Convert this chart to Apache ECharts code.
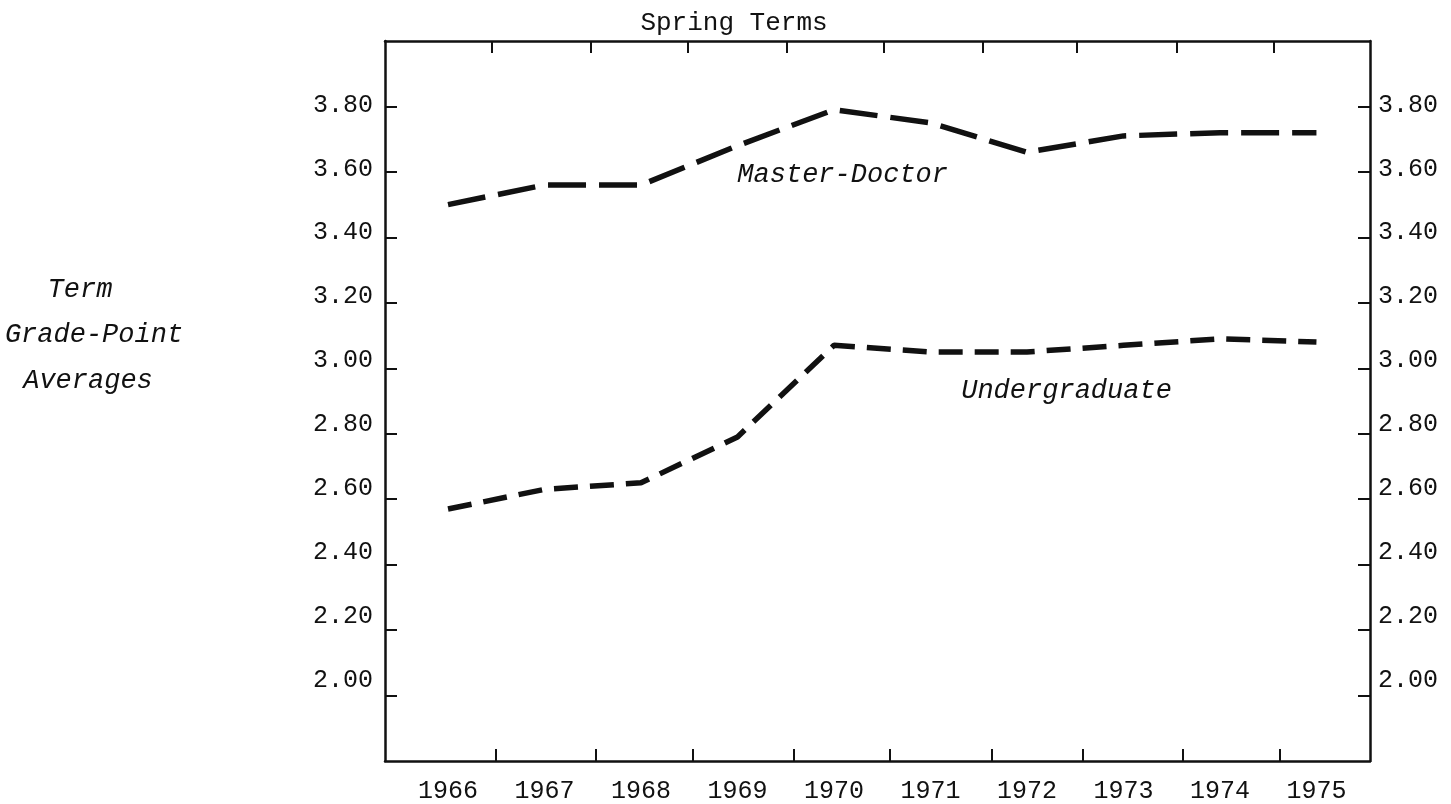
<!doctype html>
<html lang="en">
<head>
    <meta charset="UTF-8">
    <script src="https://cdn.jsdelivr.net/npm/echarts@6.0.0/dist/echarts.min.js"></script>
    <title>Spring Terms</title>
    <style>
        html, body { margin: 0; padding: 0; background: #fff; }
    </style>
</head>
<body>
<div id="main" style="width: 1451px;height:804px;"></div>
<script>
    // data
    var years = [1966, 1967, 1968, 1969, 1970, 1971, 1972, 1973, 1974, 1975];
    var masterDoctor = [3.50, 3.56, 3.56, 3.68, 3.79, 3.75, 3.66, 3.71, 3.72, 3.72];
    var undergraduate = [2.57, 2.63, 2.65, 2.79, 3.07, 3.05, 3.05, 3.07, 3.09, 3.08];
    var yTicks = [2.00, 2.20, 2.40, 2.60, 2.80, 3.00, 3.20, 3.40, 3.60, 3.80];
    // typed tick marks are not quite midway between the years
    var bottomTicks = [1966.49, 1967.53, 1968.54, 1969.58, 1970.58, 1971.63, 1972.58, 1973.61, 1974.62];
    var topTicks = [1966.45, 1967.48, 1968.48, 1969.51, 1970.52, 1971.54, 1972.52, 1973.55, 1974.56];

    var ink = '#111';
    var mono = 'Liberation Mono';

    function pairs(vals) {
        var out = [];
        for (var i = 0; i < years.length; i++) {
            out.push([years[i], vals[i]]);
        }
        return out;
    }

    var myChart = echarts.init(document.getElementById('main'));

    var lineAxis = { show: true, lineStyle: { color: ink, width: 2.5 } };
    var tickStyle = { color: ink, width: 2 };
    var numLabel = { color: ink, fontFamily: mono, fontSize: 25 };

    function xAxisFor(pos, ticks, withLabels) {
        return {
            type: 'value',
            position: pos,
            min: 1965.347,
            max: 1975.555,
            axisLine: lineAxis,
            splitLine: { show: false },
            axisTick: { show: true, inside: true, length: 12, lineStyle: tickStyle, customValues: ticks },
            axisLabel: withLabels ? Object.assign({
                customValues: years,
                formatter: function (v) { return String(v); },
                margin: 18
            }, numLabel) : { show: false }
        };
    }

    // one axis carries the frame and ticks, a second one on the same side
    // carries the typed labels, which sit a little higher going down
    function yFrame(pos) {
        return {
            type: 'value',
            position: pos,
            min: 1.8,
            max: 4.0,
            axisLine: lineAxis,
            splitLine: { show: false },
            axisTick: { show: true, inside: true, length: 12, lineStyle: tickStyle, customValues: yTicks },
            axisLabel: { show: false }
        };
    }
    function yLabels(pos, margin) {
        return {
            type: 'value',
            position: pos,
            min: 1.7465,
            max: 4.0003,
            axisLine: { show: false },
            axisTick: { show: false },
            splitLine: { show: false },
            axisLabel: Object.assign({
                customValues: yTicks,
                formatter: function (v) { return v.toFixed(2); },
                margin: margin
            }, numLabel)
        };
    }

    var option = {
        backgroundColor: '#fff',
        animation: false,
        grid: { left: 385, right: 81, top: 41, bottom: 43 },
        xAxis: [xAxisFor('bottom', bottomTicks, true), xAxisFor('top', topTicks, false)],
        yAxis: [yFrame('left'), yFrame('right'), yLabels('left', 12), yLabels('right', 8)],
        series: [{
            name: 'Master-Doctor',
            type: 'line',
            data: pairs(masterDoctor),
            symbol: 'none',
            lineStyle: { color: ink, width: 5.5, type: [38, 13], cap: 'butt' }
        }, {
            name: 'Undergraduate',
            type: 'line',
            data: pairs(undergraduate),
            symbol: 'none',
            lineStyle: { color: ink, width: 5.5, type: [24, 12], cap: 'butt' }
        }]
    };

    myChart.setOption(option);

    // text placed in data space, converted to pixels
    var seriesNotes = [
        { text: 'Master-Doctor', at: [1970.09, 3.59] },
        { text: 'Undergraduate', at: [1972.41, 2.93] }
    ];
    var graphics = [{
        type: 'text', x: 734, y: 23,
        style: { text: 'Spring Terms', font: '26px "Liberation Mono"', fill: ink, align: 'center', verticalAlign: 'middle' }
    }];
    seriesNotes.forEach(function (n) {
        var p = myChart.convertToPixel({ xAxisIndex: 0, yAxisIndex: 0 }, n.at);
        graphics.push({
            type: 'text', x: p[0], y: p[1],
            style: { text: n.text, font: 'italic 27px "Liberation Mono"', fill: ink, align: 'center', verticalAlign: 'middle' }
        });
    });
    var sideTitle = [
        { text: 'Term', x: 80, y: 290 },
        { text: 'Grade-Point', x: 94, y: 335 },
        { text: 'Averages', x: 88, y: 381 }
    ];
    sideTitle.forEach(function (s) {
        graphics.push({
            type: 'text', x: s.x, y: s.y,
            style: { text: s.text, font: 'italic 27px "Liberation Mono"', fill: ink, align: 'center', verticalAlign: 'middle' }
        });
    });
    myChart.setOption({ graphic: graphics });
</script>
</body>
</html>
